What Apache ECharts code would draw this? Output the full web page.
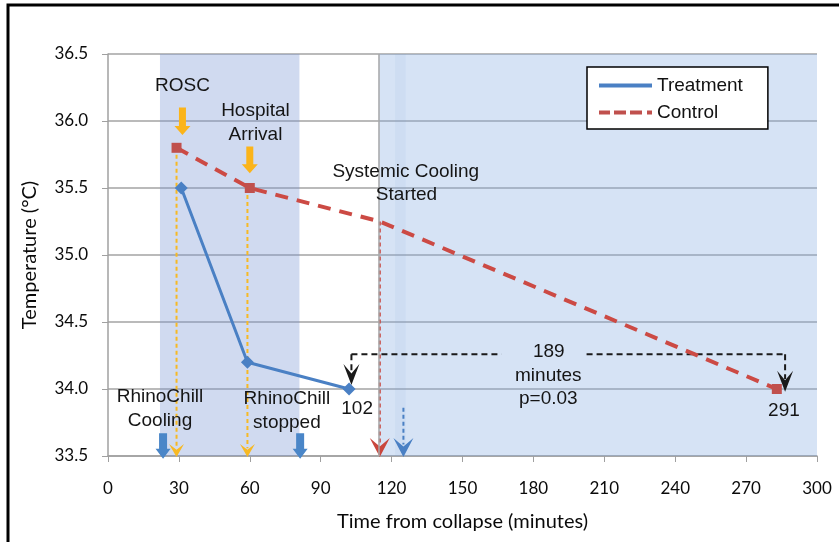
<!DOCTYPE html>
<html><head><meta charset="utf-8">
<script src="https://cdn.jsdelivr.net/npm/echarts@6/dist/echarts.min.js"></script>
<style>html,body{margin:0;padding:0;background:#fff}#c{width:839px;height:542px}</style>
</head><body><div id="c"></div>
<script>
// ---------- data ----------
const xTicks = [0, 30, 60, 90, 120, 150, 180, 210, 240, 270, 300];
const yTicks = [33.5, 34.0, 34.5, 35.0, 35.5, 36.0, 36.5];
const treatmentTimes = [31, 59, 102];
const treatmentTemps = [35.5, 34.2, 34.0];
const controlTimes = [29, 60, 115, 283];
const controlTemps = [35.8, 35.5, 35.25, 34.0];
const controlMarked = [true, true, false, true];
// shaded phases (minutes)
const phaseStarts = [22, 114.5];
const phaseEnds = [81, 300];
// dashed event guides with arrowheads at the axis
const guideTimes = [29, 59, 115, 125];
const guideTops = [35.8, 35.5, 35.25, 33.86];
const guideKinds = ['yellow', 'yellow', 'red', 'blue'];
// block arrows
const blockTimes = [31.5, 60, 23.3, 81.3];
const blockTops = [36.1, 35.81, 33.67, 33.67];
const blockTips = [35.895, 35.61, 33.48, 33.48];
const blockKinds = ['yellow', 'yellow', 'blue', 'blue'];
// 189-minute bracket
const bracketTimes = [103, 286.5];
const bracketLevel = 34.26;
const bracketGap = [166.5, 202.5];
const bracketTips = [34.03, 33.98];
// annotation texts
const labelTexts = ['ROSC', 'Hospital', 'Arrival', 'Systemic Cooling', 'Started', 'RhinoChill', 'Cooling', 'RhinoChill', 'stopped', '102', '189', 'minutes', 'p=0.03', '291'];
const labelTimes = [31.5, 62.4, 62.4, 126, 126.3, 22, 22, 75.7, 75.7, 105.4, 186.5, 186.3, 186.3, 286];
const labelTemps = [36.26, 36.08, 35.9, 35.62, 35.45, 33.94, 33.76, 33.93, 33.75, 33.85, 34.28, 34.10, 33.93, 33.84];

// ---------- styles ----------
const COLORS = { yellow: '#f7b924', red: '#c9463d', blue: '#4a80c4', black: '#1a1a1a' };
const FONT = '"Liberation Sans", Arial, sans-serif';

const chart = echarts.init(document.getElementById('c'));

function chevron(x, tipY, w, h, fill) {
  return { type: 'polygon', shape: { points: [[x, tipY], [x - w / 2, tipY - h], [x, tipY - h * 0.55], [x + w / 2, tipY - h]] }, style: { fill } };
}

const option = {
  animation: false,
  grid: { left: 108, right: 22, top: 54, bottom: 86 },
  graphic: [{ type: 'rect', shape: { x: 8, y: 5, width: 845, height: 550 }, style: { fill: 'none', stroke: '#000', lineWidth: 3 }, z: 100 }],
  legend: {
    left: 587, top: 67, orient: 'vertical',
    padding: [9, 25, 7, 12], itemGap: 8,
    itemWidth: 53, itemHeight: 4,
    borderColor: '#000', borderWidth: 1.5, borderRadius: 0, backgroundColor: '#fff',
    textStyle: { fontFamily: FONT, fontSize: 19, color: '#111', padding: [0, 0, 0, 0] },
    data: [
      { name: 'Treatment', icon: 'path://M0 0H53V4H0Z' },
      { name: 'Control', icon: 'path://M0 0H11V4H0Z M15 0H27V4H15Z M31 0H43V4H31Z M48 0H53V4H48Z' }
    ]
  },
  xAxis: {
    type: 'value', min: xTicks[0], max: xTicks[xTicks.length - 1], interval: 30,
    name: 'Time from collapse (minutes)', nameLocation: 'middle', nameGap: 56,
    nameTextStyle: { fontFamily: 'Lato', fontSize: 20, color: '#0a0a0a' },
    axisLine: { show: true, lineStyle: { color: '#a0a0a0', width: 1.5 } },
    axisTick: { show: true, length: 6, lineStyle: { color: '#a0a0a0' } },
    axisLabel: { fontFamily: 'Lato', fontSize: 17, color: '#0a0a0a', margin: 24 },
    splitLine: { show: false }
  },
  yAxis: {
    type: 'value', min: yTicks[0], max: yTicks[yTicks.length - 1], interval: 0.5,
    name: 'Temperature (°C)', nameLocation: 'middle', nameGap: 68,
    nameTextStyle: { fontFamily: 'Lato', fontSize: 20, color: '#0a0a0a' },
    axisLine: { show: true, lineStyle: { color: '#a0a0a0', width: 1.5 } },
    axisTick: { show: true, length: 6, lineStyle: { color: '#a0a0a0' } },
    axisLabel: { fontFamily: 'Lato', fontSize: 17, color: '#0a0a0a', margin: 20, formatter: v => v.toFixed(1) },
    splitLine: { show: true, lineStyle: { color: '#a3a3a3', width: 1.5 } }
  },
  series: [
    {
      name: 'Treatment', type: 'line', z: 6,
      data: treatmentTimes.map((t, i) => [t, treatmentTemps[i]]),
      symbol: 'diamond', symbolSize: 13,
      itemStyle: { color: COLORS.blue },
      lineStyle: { color: COLORS.blue, width: 3 },
      markArea: {
        silent: true,
        data: [
          [{ xAxis: phaseStarts[0], itemStyle: { color: 'rgba(120,148,212,0.35)' } }, { xAxis: phaseEnds[0] }],
          [{ xAxis: phaseStarts[1], itemStyle: { color: 'rgba(135,172,226,0.34)' } }, { xAxis: phaseEnds[1] }],
          [{ xAxis: 121.5, itemStyle: { color: 'rgba(120,150,215,0.08)' } }, { xAxis: 126 }]
        ]
      },
      markLine: {
        silent: true, symbol: 'none', label: { show: false },
        lineStyle: { color: '#a8a8a8', type: 'solid', width: 1.5 },
        data: [{ xAxis: phaseStarts[1] }]
      }
    },
    {
      name: 'Control', type: 'line', z: 6,
      data: controlTimes.map((t, i) => controlMarked[i] ? [t, controlTemps[i]] : { value: [t, controlTemps[i]], symbol: 'none' }),
      symbol: 'rect', symbolSize: 10,
      itemStyle: { color: '#c0504d' },
      lineStyle: { color: '#cc4a44', width: 4, type: [13, 9] }
    },
    {
      name: 'guides', type: 'custom', z: 4, silent: true,
      data: guideTimes.map((t, i) => [t, guideTops[i]]),
      encode: { x: 0, y: 1 },
      renderItem: (params, api) => {
        const i = params.dataIndex;
        const kind = guideKinds[i];
        const c = COLORS[kind];
        const top = api.coord([guideTimes[i], guideTops[i]]);
        const bot = api.coord([guideTimes[i], yTicks[0]]);
        const w = kind === 'yellow' ? 15 : 20, h = kind === 'yellow' ? 13 : 19;
        return { type: 'group', children: [
          { type: 'line', shape: { x1: top[0], y1: top[1], x2: bot[0], y2: bot[1] - h * 0.6 }, style: { stroke: c, lineWidth: 2, lineDash: [4, 3] } },
          chevron(bot[0], bot[1] + 1, w, h, c)
        ] };
      }
    },
    {
      name: 'blocks', type: 'custom', z: 4, silent: true,
      data: blockTimes.map((t, i) => [t, blockTops[i]]),
      encode: { x: 0, y: 1 },
      renderItem: (params, api) => {
        const i = params.dataIndex;
        const c = blockKinds[i] === 'yellow' ? '#fbb41a' : '#4a86c8';
        const p0 = api.coord([blockTimes[i], blockTops[i]]);
        const p1 = api.coord([blockTimes[i], blockTips[i]]);
        const x = p0[0], y0 = p0[1], y1 = p1[1];
        const s = blockKinds[i] === 'yellow' ? 7 : 8, hw = blockKinds[i] === 'yellow' ? 16 : 15, hh = blockKinds[i] === 'yellow' ? 9 : 10;
        return { type: 'polygon', shape: { points: [[x - s / 2, y0], [x + s / 2, y0], [x + s / 2, y1 - hh], [x + hw / 2, y1 - hh], [x, y1], [x - hw / 2, y1 - hh], [x - s / 2, y1 - hh]] }, style: { fill: c } };
      }
    },
    {
      name: 'bracket', type: 'custom', z: 4, silent: true,
      data: [[bracketTimes[0], bracketLevel]],
      encode: { x: 0, y: 1 },
      renderItem: (params, api) => {
        const a = api.coord([bracketTimes[0], bracketLevel]);
        const b = api.coord([bracketTimes[1], bracketLevel]);
        const g0 = api.coord([bracketGap[0], bracketLevel]);
        const g1 = api.coord([bracketGap[1], bracketLevel]);
        const ta = api.coord([bracketTimes[0], bracketTips[0]]);
        const tb = api.coord([bracketTimes[1], bracketTips[1]]);
        const st = { stroke: COLORS.black, lineWidth: 2, lineDash: [6, 4] };
        const w = 16, h = 21;
        return { type: 'group', children: [
          { type: 'line', shape: { x1: a[0], y1: a[1], x2: g0[0], y2: a[1] }, style: st },
          { type: 'line', shape: { x1: g1[0], y1: a[1], x2: b[0], y2: b[1] }, style: st },
          { type: 'line', shape: { x1: a[0], y1: a[1], x2: a[0], y2: ta[1] - h * 0.6 }, style: st },
          { type: 'line', shape: { x1: b[0], y1: b[1], x2: b[0], y2: tb[1] - h * 0.6 }, style: st },
          chevron(ta[0], ta[1], w, h, COLORS.black),
          chevron(tb[0], tb[1], w, h, COLORS.black)
        ] };
      }
    },
    {
      name: 'labels', type: 'custom', z: 7, silent: true,
      data: labelTimes.map((t, i) => [t, labelTemps[i]]),
      encode: { x: 0, y: 1 },
      renderItem: (params, api) => {
        const i = params.dataIndex;
        const p = api.coord([labelTimes[i], labelTemps[i]]);
        return { type: 'text', x: p[0], y: p[1], style: { text: labelTexts[i], font: '19px ' + FONT, fill: '#151515', align: 'center', verticalAlign: 'middle' } };
      }
    }
  ]
};
chart.setOption(option);
</script></body></html>
